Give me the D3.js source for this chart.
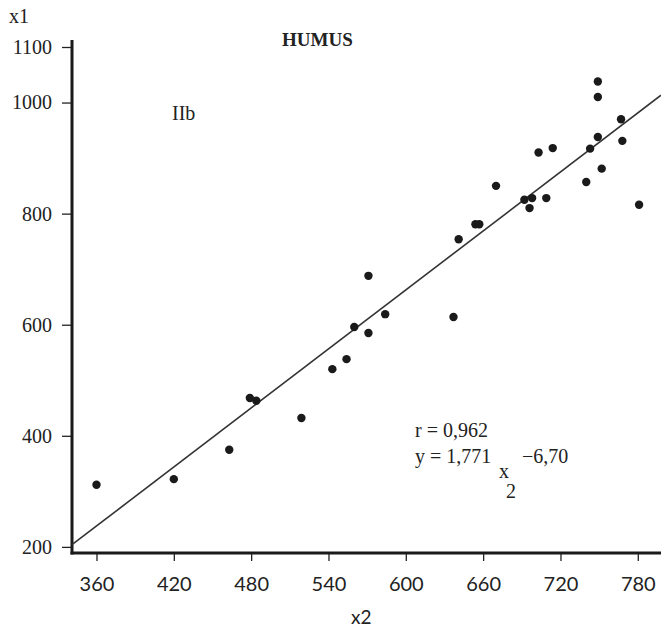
<!DOCTYPE html>
<html>
<head>
<meta charset="utf-8">
<script src="https://cdn.jsdelivr.net/npm/d3@7"></script>
<style>
  body { margin: 0; background: #fff; }
  svg text { font-family: "Liberation Serif", "DejaVu Serif", serif; fill: #222; }
</style>
</head>
<body>
<div id="chart"></div>
<script>
// HUMUS, group IIb: x2 against x1
const humusX2 = [360, 420, 463, 479, 484, 519, 543, 554, 560, 571, 571, 584, 637, 641,
                 654, 657, 670, 692, 696, 698, 703, 709, 714, 740, 743, 749, 749, 749,
                 752, 767, 768, 781];
const humusX1 = [312, 322, 375, 468, 463, 432, 520, 538, 596, 585, 688, 619, 614, 754,
                 781, 781, 850, 825, 810, 828, 910, 828, 918, 857, 917, 1038, 1010, 938,
                 881, 970, 931, 816];

const xTicks = [360, 420, 480, 540, 600, 660, 720, 780];
const yTicks = [200, 400, 600, 800, 1000, 1100];

// fitted line as drawn
const lineSlope = 1.771;
const lineIntercept = -400;

const W = 661, H = 628;

const svg = d3.select("#chart").append("svg")
    .attr("width", W)
    .attr("height", H);

// scales
const xScale = d3.scaleLinear().domain([341, 798]).range([72, 661]);
const yScale = d3.scaleLinear().domain([189, 1100]).range([553, 47]);

const axisY = yScale(189);
const axisX = xScale(341);

// y axis
const gy = svg.append("g")
    .attr("transform", `translate(${axisX},0)`)
    .call(d3.axisLeft(yScale).tickValues(yTicks).tickSize(10).tickPadding(10).tickFormat(d3.format("d")))
    .call(ax => ax.select(".domain").remove());
gy.selectAll(".tick line").attr("stroke", "#222").attr("stroke-width", 1.3);
gy.selectAll(".tick text").attr("font-size", 20).attr("fill", "#222")
    .style("font-family", "'Liberation Serif', serif");

svg.append("line")
    .attr("x1", axisX).attr("x2", axisX)
    .attr("y1", 40).attr("y2", axisY + 1.5)
    .attr("stroke", "#1a1a1a").attr("stroke-width", 3);

// x axis
const gx = svg.append("g")
    .attr("transform", `translate(0,${axisY})`)
    .call(d3.axisBottom(xScale).tickValues(xTicks).tickSize(8).tickPadding(16).tickFormat(d3.format("d")))
    .call(ax => ax.select(".domain").remove());
gx.selectAll(".tick line").attr("stroke", "#222").attr("stroke-width", 1.3);
gx.selectAll(".tick text").attr("font-size", 20).attr("fill", "#333")
    .style("font-family", "Lato, 'Open Sans', sans-serif");

svg.append("line")
    .attr("x1", axisX - 1.5).attr("x2", W)
    .attr("y1", axisY).attr("y2", axisY)
    .attr("stroke", "#1a1a1a").attr("stroke-width", 3);

// regression line
const xs = xScale.domain();
svg.append("line")
    .attr("x1", xScale(xs[0])).attr("y1", yScale(lineSlope * xs[0] + lineIntercept))
    .attr("x2", xScale(xs[1])).attr("y2", yScale(lineSlope * xs[1] + lineIntercept))
    .attr("stroke", "#333").attr("stroke-width", 1.6);

// dots
svg.selectAll(".dot")
    .data(humusX2.map((x, i) => ({ x, y: humusX1[i] })))
    .join("circle")
    .attr("class", "dot")
    .attr("cx", d => xScale(d.x))
    .attr("cy", d => yScale(d.y))
    .attr("r", 4.2)
    .attr("fill", "#1a1a1a");

// labels
svg.append("text").attr("x", 9).attr("y", 23).attr("font-size", 20).text("x1");
svg.append("text").attr("x", 282).attr("y", 46).attr("font-size", 19).attr("font-weight", "bold").text("HUMUS");
svg.append("text").attr("x", 172).attr("y", 120).attr("font-size", 20).text("IIb");
svg.append("text").attr("x", 351).attr("y", 624).attr("font-size", 19)
    .style("font-family", "Lato, sans-serif").attr("fill", "#333").text("x2");
svg.append("text").attr("x", 415).attr("y", 437).attr("font-size", 20).text("r = 0,962");
svg.append("text").attr("x", 415).attr("y", 463).attr("font-size", 20).text("y = 1,771");
svg.append("text").attr("x", 522).attr("y", 463).attr("font-size", 20).text("\u22126,70");
svg.append("text").attr("x", 499).attr("y", 478).attr("font-size", 20).text("x");
svg.append("text").attr("x", 506).attr("y", 498).attr("font-size", 20).text("2");
</script>
</body>
</html>
